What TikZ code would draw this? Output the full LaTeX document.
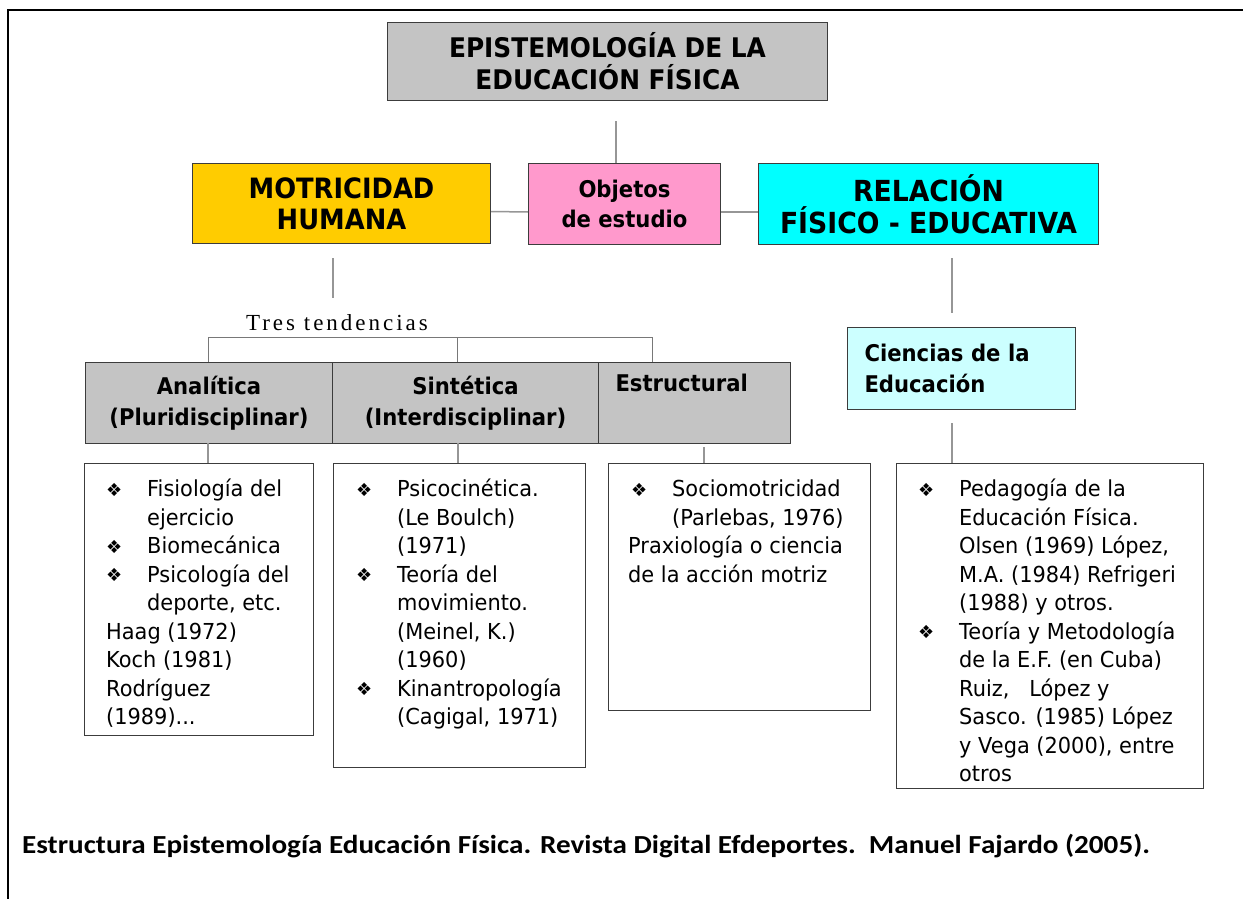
\documentclass[tikz,border=0pt]{standalone}
\usepackage{fontspec}
\setmainfont{DejaVu Sans}
\newfontfamily\tah[FakeStretch=0.95]{DejaVu Sans}
\newfontfamily\tahb[FakeStretch=0.92]{DejaVu Sans Bold}
\newfontfamily\tres[LetterSpace=13]{Liberation Serif}
\newfontfamily\capf{Carlito}
\newfontfamily\dej{DejaVu Sans}
\usetikzlibrary{calc}
\definecolor{boxgray}{RGB}{196,196,196}
\definecolor{motr}{RGB}{255,204,0}
\definecolor{objc}{RGB}{255,153,204}
\definecolor{relc}{RGB}{0,255,255}
\definecolor{cien}{RGB}{204,255,255}
\definecolor{conn}{RGB}{150,150,150}
\definecolor{edge}{RGB}{60,60,60}
\newcommand\bu{\makebox[41pt][l]{\raisebox{0.5pt}{\dej\fontsize{18}{18}\selectfont ❖}}}
\newcommand\ii{\hspace*{41pt}}
\newcommand\fr{\rule{0pt}{20pt}}
\tikzset{
  hbox/.style={draw=edge, line width=1pt, inner sep=0pt, anchor=north west, align=center},
  graybox/.style={hbox, fill=boxgray},
  listbox/.style={draw=edge, line width=1pt, anchor=north west, inner sep=0pt, fill=white},
  listtext/.style={anchor=north west, inner sep=0pt, align=left, font=\tah\fontsize{22}{28.5}\selectfont},
  conn/.style={draw=conn, line width=1.5pt},
  brk/.style={draw=conn!80!black, line width=1pt},
}
\begin{document}
\begin{tikzpicture}[x=1pt,y=-1pt]
\useasboundingbox (0,0) rectangle (1243,899);
\fill[white] (0,0) rectangle (1243,899);
% frame
\draw[line width=2pt, black] (8,899) -- (8,10) -- (1243,10);

% title
\node[graybox, minimum width=440pt, minimum height=78pt, font=\tahb\fontsize{27}{32}\selectfont] (title) at (387,22) {EPISTEMOLOGÍA DE LA\\EDUCACIÓN FÍSICA};

% second row
\node[hbox, fill=motr, minimum width=298pt, minimum height=80pt, font=\tahb\fontsize{28}{31}\selectfont] (motr) at (192,163) {MOTRICIDAD\\HUMANA};
\node[hbox, fill=objc, minimum width=192pt, minimum height=81pt, font=\tahb\fontsize{23}{30}\selectfont] (obj) at (528,163) {Objetos\\de estudio};
\node[hbox, fill=relc, minimum width=340pt, minimum height=81pt, font=\tahb\fontsize{29}{32}\selectfont] (rel) at (758,163) {RELACIÓN\\FÍSICO - EDUCATIVA};

\coordinate (tc) at (616,121);
\draw[conn] (tc) -- (tc |- obj.north);
\draw[conn] ([yshift=-8pt]motr.east) -- ([yshift=-8pt]obj.west);
\draw[conn] ([yshift=-8pt]obj.east) -- ([yshift=-8pt]rel.west);

% tres tendencias
\coordinate (m1) at (333,258);
\coordinate (m2) at (333,298);
\draw[conn] (m1) -- (m2);
\node[font=\tres\fontsize{23}{23}\selectfont, inner sep=0pt] (tres) at (337,323) {Tres tendencias};

\node[graybox, minimum width=247pt, minimum height=81pt, font=\tahb\fontsize{23}{31}\selectfont] (ana) at (85,362) {Analítica\\(Pluridisciplinar)};
\node[graybox, minimum width=266pt, minimum height=81pt, font=\tahb\fontsize{23}{31}\selectfont] (sin) at (332,362) {Sintética\\(Interdisciplinar)};
\node[graybox, minimum width=192pt, minimum height=81pt, font=\tahb\fontsize{23}{31}\selectfont, align=left, text width=158pt] (est) at (598,362) {Estructural\\\strut};

\coordinate (bk1) at (208,337);
\coordinate (bk2) at (457,337);
\coordinate (bk3) at (652,337);
\draw[brk] (bk1 |- ana.north) -- (bk1) -- (bk3) -- (bk3 |- est.north);
\draw[brk] (bk2) -- (bk2 |- sin.north);

% list boxes
\node[listbox, minimum width=229pt, minimum height=272pt] (b1) at (84,463) {};
\node[listbox, minimum width=252pt, minimum height=304pt] (b2) at (333,463) {};
\node[listbox, minimum width=262pt, minimum height=247pt] (b3) at (608,463) {};
\node[listbox, minimum width=307pt, minimum height=325pt] (b4) at (896,463) {};

\coordinate (l1) at (208,443);
\coordinate (l2) at (458,443);
\coordinate (l3) at (704,447);
\draw[conn] (l1) -- (l1 |- b1.north);
\draw[conn] (l2) -- (l2 |- b2.north);
\draw[conn] (l3) -- (l3 |- b3.north);

\node[listtext] (t1) at (106,476.5) {\fr\bu Fisiología del\\ \ii ejercicio\\ \bu Biomecánica\\ \bu Psicología del\\ \ii deporte, etc.\\ Haag (1972)\\ Koch (1981)\\ Rodríguez\\ (1989)...};
\node[listtext] (t2) at (356,476.5) {\fr\bu Psicocinética.\\ \ii (Le Boulch)\\ \ii (1971)\\ \bu Teoría del\\ \ii movimiento.\\ \ii (Meinel, K.)\\ \ii (1960)\\ \bu Kinantropología\\ \ii (Cagigal, 1971)};
\node[listtext] (t3) at (628,476.5) {\fr\hspace*{3pt}\bu Sociomotricidad\\ \hspace*{3pt}\ii (Parlebas, 1976)\\ Praxiología o ciencia\\ de la acción motriz};
\node[listtext] (t4) at (918,476.5) {\fr\bu Pedagogía de la\\ \ii Educación Física.\\ \ii Olsen (1969) López,\\ \ii M.A. (1984) Refrigeri\\ \ii (1988) y otros.\\ \bu Teoría y Metodología\\ \ii de la E.F. (en Cuba)\\ \ii Ruiz,\ \ \ López y\\ \ii Sasco. (1985) López\\ \ii y Vega (2000), entre\\ \ii otros};

% ciencias
\coordinate (r1) at (952,258);
\coordinate (r2) at (952,313);
\draw[conn] (r1) -- (r2);
\node[hbox, fill=cien, minimum width=228pt, minimum height=82pt, font=\tahb\fontsize{23}{31}\selectfont, align=left, text width=194pt] (cie) at (847,327) {Ciencias de la\\Educación};
\coordinate (c1) at (952,423);
\draw[conn] (c1) -- (c1 |- b4.north);

% caption
\node[anchor=base west, inner sep=0pt, font=\capf\bfseries\fontsize{26}{26}\selectfont] (cap) at (22,853) {\scalebox{1.12}[1]{Estructura Epistemología Educación Física. Revista Digital Efdeportes.\ \ Manuel Fajardo (2005).}};
\end{tikzpicture}
\end{document}
